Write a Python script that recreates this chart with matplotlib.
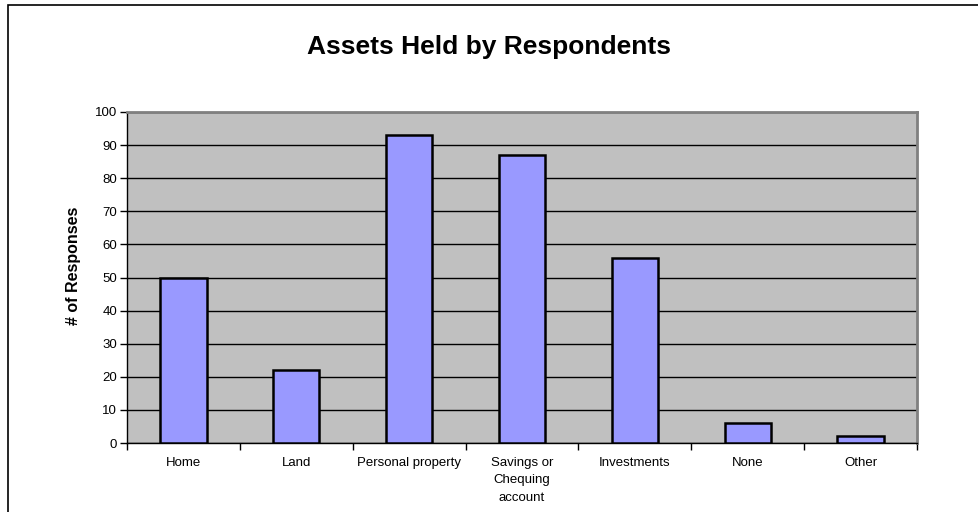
import numpy as np
import matplotlib.pyplot as plt
from matplotlib.patches import Rectangle

categories = ["Home", "Land", "Personal property", "Savings or\nChequing\naccount",
              "Investments", "None", "Other"]
responses = [50, 22, 93, 87, 56, 6, 2]
y_ticks = list(range(0, 101, 10))

plt.rcParams['font.family'] = ['Liberation Sans', 'DejaVu Sans']

fig = plt.figure(figsize=(9.79, 5.12), dpi=100)
ax = fig.add_axes([127 / 979, 1 - 443 / 512, (917 - 127) / 979, (443 - 112) / 512])

# chart area border (only left and top edges fall inside the picture)
fig.patches.append(Rectangle((8 / 979, -0.05), 1.0, 1.05 - 5 / 512,
                             transform=fig.transFigure, fill=False,
                             edgecolor='black', linewidth=1.2))

x = np.arange(len(categories))
ax.set_facecolor('#C0C0C0')
ax.set_axisbelow(True)
ax.yaxis.grid(True, color='black', linewidth=1)
ax.bar(x, responses, width=0.41, color='#9999FF', edgecolor='black', linewidth=1.8, zorder=3)

ax.set_xlim(-0.5, len(categories) - 0.5)
ax.set_ylim(0, 100)
ax.set_yticks(y_ticks)
ax.tick_params(axis='y', labelsize=9.5, length=5, width=1, direction='out', pad=2)

ax.set_xticks(x)
ax.set_xticklabels(categories, fontsize=9.5, linespacing=1.6, va='top')
ax.tick_params(axis='x', which='major', length=0, pad=10)
ax.set_xticks(np.arange(-0.5, len(categories)), minor=True)
ax.tick_params(axis='x', which='minor', length=5, width=1, direction='out')

for side in ['left', 'bottom']:
    ax.spines[side].set_color('black')
    ax.spines[side].set_linewidth(1)
for side in ['top', 'right']:
    ax.spines[side].set_color('#808080')
    ax.spines[side].set_linewidth(2)

ax.set_ylabel("# of Responses", fontsize=11.5, fontweight='bold')
ax.yaxis.set_label_coords(-0.058, 0.535)
fig.text(0.5, 1 - 47 / 512, "Assets Held by Respondents", ha='center', va='center',
         fontsize=19, fontweight='bold')

fig.savefig("out.png", dpi=100)
